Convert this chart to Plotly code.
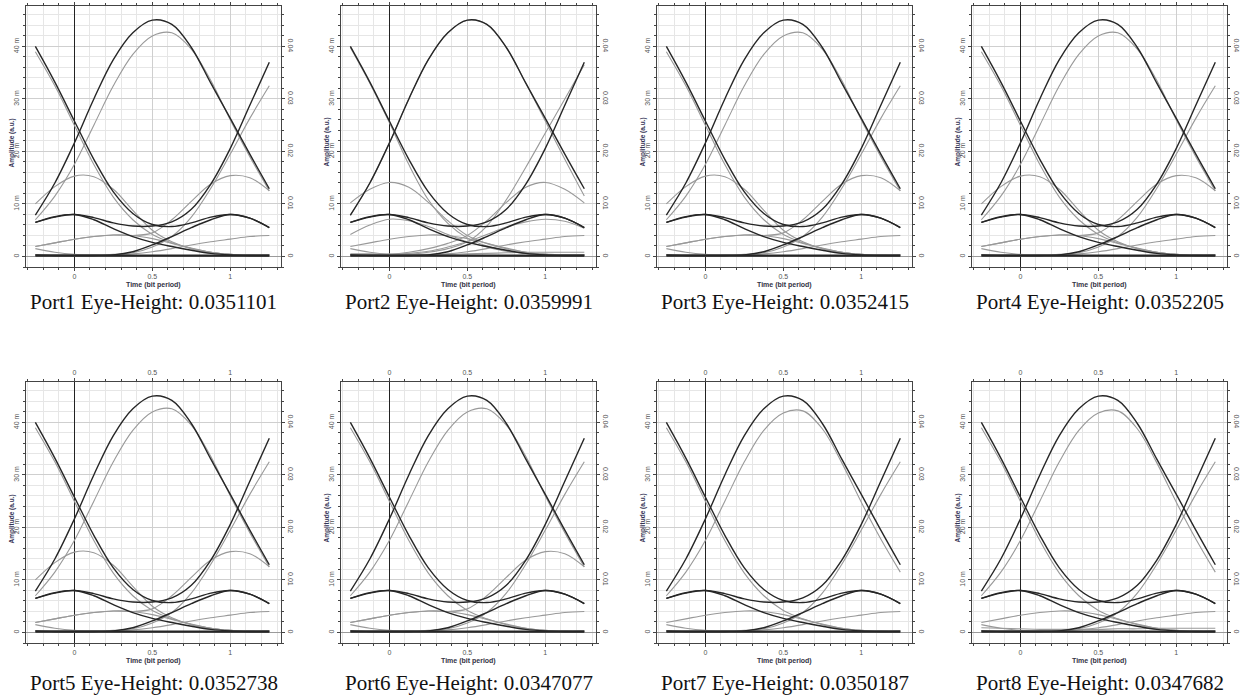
import plotly.graph_objects as go

# ---------------- data ----------------
X = [-0.25, -0.125, 0.0, 0.125, 0.25, 0.375, 0.5, 0.625, 0.75, 0.875, 1.0, 1.125, 1.25]

PORTS = ["Port1", "Port2", "Port3", "Port4", "Port5", "Port6", "Port7", "Port8"]
EYE_HEIGHT = ["0.0351101", "0.0359991", "0.0352415", "0.0352205",
              "0.0352738", "0.0347077", "0.0350187", "0.0347682"]

X_TICKS = [0, 0.5, 1]
X_TICK_TEXT = ["0", "0.5", "1"]
Y_TICKS = [0, 10, 20, 30, 40]                      # milli-units
Y_LEFT_TEXT = ["0", "10 m", "20 m", "30 m", "40 m"]
Y_RIGHT_TEXT = ["0", "0.01", "0.02", "0.03", "0.04"]

# dark traces (values in milli a.u.)
D_BUMP = [7.9, 14.0, 21.6, 30.0, 37.5, 42.6, 45.0, 44.2, 39.8, 33.0, 26.3, 19.5, 12.9]
D_FALL = [40.0, 33.2, 25.8, 18.5, 12.3, 8.2, 6.1, 5.7, 6.4, 7.5, 8.0, 7.3, 5.5]
D_RISE = [6.5, 7.5, 8.0, 7.4, 6.4, 5.8, 5.8, 6.6, 9.0, 13.8, 20.6, 28.8, 37.0]
D_SMALL_FALL = [6.5, 7.6, 8.0, 7.0, 5.3, 3.8, 2.7, 1.9, 1.2, 0.6, 0.3, 0.2, 0.2]
D_SMALL_RISE = [0.3, 0.2, 0.2, 0.2, 0.3, 0.9, 2.2, 3.8, 5.5, 7.0, 8.0, 7.3, 5.5]
D_ZERO = [0.15, 0.15, 0.15, 0.15, 0.15, 0.15, 0.15, 0.15, 0.15, 0.15, 0.15, 0.15, 0.15]

# light traces
L_BUMP_A = [7.0, 11.5, 17.5, 25.0, 32.5, 38.5, 42.0, 42.6, 39.5, 33.5, 26.0, 19.0, 12.5]
L_BUMP_B = [7.0, 11.5, 17.5, 25.0, 32.5, 38.5, 41.8, 42.2, 38.8, 32.3, 24.8, 17.8, 11.5]
L_FALL = [39.0, 32.5, 25.0, 17.5, 11.3, 7.0, 4.2, 2.6, 1.5, 0.8, 0.4, 0.3, 0.3]
L_RISE = [0.3, 0.3, 0.3, 0.3, 0.4, 0.7, 1.8, 3.8, 7.5, 13.0, 19.5, 26.3, 32.5]
L_MID_L = [10.0, 13.3, 15.3, 15.2, 12.8, 8.8, 5.0, 2.8, 1.5, 0.8, 0.4, 0.3, 0.3]
L_MID_R = [1.9, 2.6, 3.3, 3.8, 4.1, 4.0, 4.5, 7.0, 10.5, 13.8, 15.4, 15.0, 12.5]
L_SMALL_L = [1.9, 2.6, 3.3, 3.8, 4.1, 4.0, 3.4, 2.5, 1.6, 0.8, 0.4, 0.3, 0.3]
L_SMALL_R = [1.5, 0.8, 0.4, 0.3, 0.3, 0.5, 0.9, 1.5, 2.2, 2.8, 3.3, 3.8, 4.0]

P2_L_BUMP = [7.8, 14.0, 21.6, 30.0, 37.5, 42.6, 45.0, 44.2, 39.8, 33.0, 25.8, 18.5, 11.5]
P2_L_FALL = [39.8, 33.0, 25.5, 17.5, 10.8, 6.3, 3.5, 2.0, 1.1, 0.6, 0.4, 0.3, 0.3]
P2_L_RISE = [0.3, 0.3, 0.3, 0.4, 0.8, 1.5, 2.8, 5.8, 10.8, 17.0, 23.5, 30.0, 36.5]
P2_L_MID_L = [10.2, 12.8, 14.1, 13.2, 10.3, 6.8, 4.0, 2.5, 1.5, 0.8, 0.4, 0.3, 0.3]
P2_L_MID_R = [0.3, 0.3, 0.4, 0.8, 1.5, 2.5, 4.0, 6.8, 10.3, 13.2, 14.1, 12.8, 10.2]
P2_L_SEV_L = [4.2, 6.0, 7.1, 6.8, 5.7, 4.2, 2.8, 1.8, 1.0, 0.6, 0.4, 0.3, 0.3]
P2_L_SEV_R = [0.3, 0.3, 0.4, 0.6, 1.0, 1.8, 2.8, 4.2, 5.6, 6.6, 7.1, 6.7, 5.4]
P2_L_LOW = [0.5, 0.5, 0.4, 0.4, 0.4, 0.4, 0.5, 0.6, 0.7, 0.8, 0.8, 0.8, 0.8]
P8_L_LOW = [0.9, 0.8, 0.7, 0.6, 0.6, 0.6, 0.6, 0.7, 0.7, 0.8, 0.8, 0.8, 0.8]

DARK_SET = [D_BUMP, D_FALL, D_RISE, D_SMALL_FALL, D_SMALL_RISE, D_ZERO]
STD_LIGHT = [L_BUMP_A, L_FALL, L_RISE, L_MID_L, L_MID_R, L_SMALL_L, L_SMALL_R]
LIGHT_SETS = [
    STD_LIGHT,
    [P2_L_BUMP, P2_L_FALL, P2_L_RISE, P2_L_MID_L, P2_L_MID_R, P2_L_SEV_L, P2_L_SEV_R,
     L_SMALL_L, L_SMALL_R, P2_L_LOW],
    STD_LIGHT,
    STD_LIGHT,
    STD_LIGHT,
    [L_BUMP_A, L_FALL, L_RISE, L_MID_R, L_SMALL_L, L_SMALL_R],
    [L_BUMP_B, L_FALL, L_RISE, L_SMALL_L, L_SMALL_R],
    [L_BUMP_B, L_FALL, L_RISE, L_SMALL_L, L_SMALL_R, P8_L_LOW],
]

# ---------------- layout geometry ----------------
W, H = 1245, 696
BOX_LEFT = [26, 341, 657, 972]
BOX_W = 255
ROW_TOP = [6, 382]
BOX_H = 261
CAPTION_Y = [302, 683]
XR = [-0.31, 1.325]
YR = [-2.0, 47.7]

DARK = "#262626"
LIGHT = "#999999"
AXC = "#444444"
TICKFONT = dict(family="Liberation Sans, Arial, sans-serif", size=7, color="#555555")


def aid(letter, n):
    return letter if n == 1 else f"{letter}{n}"


def akey(letter, n):
    return f"{letter}axis" if n == 1 else f"{letter}axis{n}"


fig = go.Figure()
layout = {}
annotations = []

for k, port in enumerate(PORTS):
    col, row = k % 4, k // 4
    nb, nt = 2 * k + 1, 2 * k + 2
    xb, xt = aid("x", nb), aid("x", nt)
    yl, yr = aid("y", nb), aid("y", nt)
    left_px = BOX_LEFT[col]
    top_px = ROW_TOP[row]
    x0, x1 = left_px / W, (left_px + BOX_W) / W
    y1, y0 = 1 - top_px / H, 1 - (top_px + BOX_H) / H

    for curve in LIGHT_SETS[k]:
        fig.add_trace(go.Scatter(x=X, y=curve, mode="lines", xaxis=xb, yaxis=yl,
                                 line=dict(color=LIGHT, width=1.1, shape="spline", smoothing=1.0),
                                 showlegend=False, hoverinfo="skip"))
    for curve in DARK_SET:
        w = 2.2 if curve is D_ZERO else 1.4
        fig.add_trace(go.Scatter(x=X, y=curve, mode="lines", xaxis=xb, yaxis=yl,
                                 line=dict(color=DARK, width=w, shape="spline", smoothing=1.0),
                                 showlegend=False, hoverinfo="skip"))
    # anchors for secondary axes
    fig.add_trace(go.Scatter(x=[None], y=[None], xaxis=xt, yaxis=yl, mode="lines",
                             showlegend=False, hoverinfo="skip"))
    fig.add_trace(go.Scatter(x=[None], y=[None], xaxis=xb, yaxis=yr, mode="lines",
                             showlegend=False, hoverinfo="skip"))

    minor_x = dict(tickmode="linear", tick0=0, dtick=0.1, ticks="outside", ticklen=2,
                   tickcolor=AXC, showgrid=True, gridcolor="#e6e6e6", gridwidth=1)
    minor_y = dict(tickmode="linear", tick0=0, dtick=2, ticks="outside", ticklen=2,
                   tickcolor=AXC, showgrid=True, gridcolor="#e6e6e6", gridwidth=1)

    layout[akey("x", nb)] = dict(
        domain=[x0, x1], anchor=yl, range=XR, tickmode="array", tickvals=X_TICKS,
        ticktext=X_TICK_TEXT, ticks="outside", ticklen=3, tickcolor=AXC,
        showgrid=True, gridcolor="#cfcfcf", gridwidth=1, minor=minor_x,
        showline=True, linecolor=AXC, linewidth=1, automargin=False,
        zeroline=True, zerolinecolor="#222222", zerolinewidth=1,
        tickfont=TICKFONT, fixedrange=True)
    layout[akey("x", nt)] = dict(
        overlaying=xb, side="top", anchor=yl, range=XR, tickmode="array",
        tickvals=X_TICKS, ticktext=X_TICK_TEXT, ticks="outside", ticklen=3, tickcolor=AXC,
        showgrid=False, zeroline=False, automargin=False,
        minor=dict(tickmode="linear", tick0=0, dtick=0.1, ticks="outside", ticklen=2,
                   tickcolor=AXC, showgrid=False),
        showline=True, linecolor=AXC, linewidth=1, tickfont=TICKFONT, fixedrange=True)
    layout[akey("y", nb)] = dict(
        domain=[y0, y1], anchor=xb, range=YR, tickmode="array", tickvals=Y_TICKS,
        ticktext=Y_LEFT_TEXT, tickangle=-90, ticks="outside", ticklen=3, tickcolor=AXC,
        showgrid=True, gridcolor="#cfcfcf", gridwidth=1, minor=minor_y,
        showline=True, linecolor=AXC, linewidth=1, automargin=False,
        zeroline=True, zerolinecolor="#9a9a9a", zerolinewidth=1,
        tickfont=TICKFONT, fixedrange=True)
    layout[akey("y", nt)] = dict(
        overlaying=yl, side="right", anchor=xb, range=YR, tickmode="array",
        tickvals=Y_TICKS, ticktext=Y_RIGHT_TEXT, tickangle=90, ticks="outside",
        ticklen=3, tickcolor=AXC, showgrid=False, zeroline=False, automargin=False,
        minor=dict(tickmode="linear", tick0=0, dtick=2, ticks="outside", ticklen=2,
                   tickcolor=AXC, showgrid=False),
        showline=True, linecolor=AXC, linewidth=1, tickfont=TICKFONT, fixedrange=True)

    cx = (x0 + x1) / 2
    annotations.append(dict(
        x=cx, y=1 - (top_px + BOX_H + 18) / H, xref="paper", yref="paper",
        text="<b>Time (bit period)</b>", showarrow=False, xanchor="center", yanchor="middle",
        font=dict(family="Liberation Sans, Arial, sans-serif", size=7, color="#333344")))
    annotations.append(dict(
        x=(left_px - 15) / W, y=1 - (top_px + BOX_H / 2 + 6) / H, xref="paper", yref="paper",
        text="<b>Amplitude (a.u.)</b>", textangle=-90, showarrow=False,
        xanchor="center", yanchor="middle",
        font=dict(family="Liberation Sans, Arial, sans-serif", size=6.5, color="#333355")))
    annotations.append(dict(
        x=cx, y=1 - CAPTION_Y[row] / H, xref="paper", yref="paper",
        text=f"{port} Eye-Height: {EYE_HEIGHT[k]}", showarrow=False,
        xanchor="center", yanchor="middle",
        font=dict(family="Liberation Serif, Times New Roman, serif", size=21, color="#111111")))

fig.update_layout(
    width=W, height=H, margin=dict(l=0, r=0, t=0, b=0, autoexpand=False),
    paper_bgcolor="white", plot_bgcolor="white",
    showlegend=False, annotations=annotations, **layout)

fig.write_html("out.html")
